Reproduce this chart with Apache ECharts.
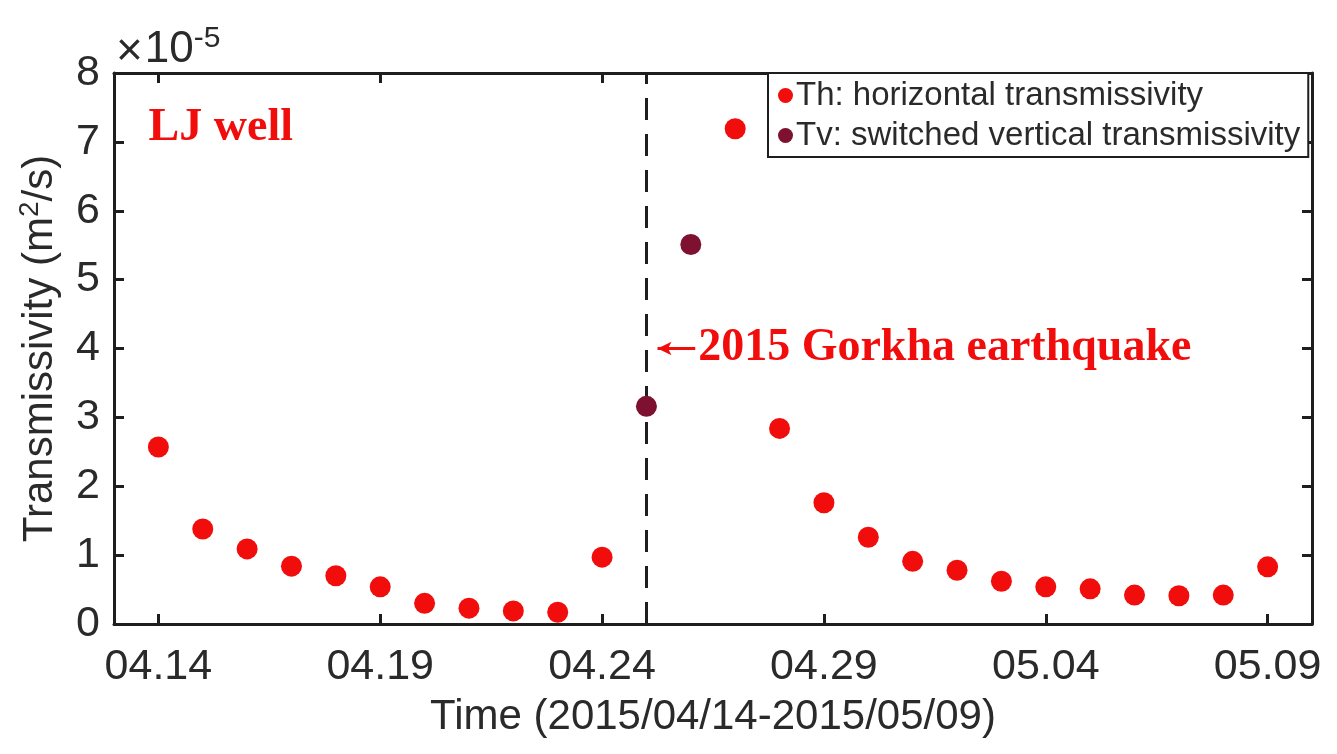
<!DOCTYPE html>
<html>
<head>
<meta charset="utf-8">
<script src="https://cdn.jsdelivr.net/npm/echarts@6/dist/echarts.min.js"></script>
<style>
  html, body { margin: 0; padding: 0; background: #fff; }
  #chart { width: 1337px; height: 754px; }
</style>
</head>
<body>
<div id="chart"></div>
<script>
// Days counted from 2015/04/14 (day 0)
const tickDays = [0, 5, 10, 15, 20, 25];
const tickLabels = ['04.14', '04.19', '04.24', '04.29', '05.04', '05.09'];

// Th: horizontal transmissivity (x 1e-5 m^2/s)
const thDays = [0, 1, 2, 3, 4, 5, 6, 7, 8, 9, 10, 13, 14, 15, 16, 17, 18, 19, 20, 21, 22, 23, 24, 25];
const thValues = [2.57, 1.38, 1.09, 0.84, 0.70, 0.54, 0.30, 0.23, 0.19, 0.17, 0.97,
                  7.19, 2.84, 1.76, 1.26, 0.91, 0.78, 0.62, 0.54, 0.51, 0.42, 0.41, 0.42, 0.83];

// Tv: switched vertical transmissivity (x 1e-5 m^2/s)
const tvDays = [11, 12];
const tvValues = [3.16, 5.51];

// Gorkha earthquake day (04.25)
const quakeDay = 11;

const thColor = '#f20d0d';
const tvColor = '#7e1030';
const axisColor = '#1e1e1e';
const textColor = '#2a2a2a';
const sans = '"Liberation Sans", Arial, Helvetica, sans-serif';
const serif = '"Liberation Serif", "Times New Roman", serif';

const chart = echarts.init(document.getElementById('chart'));

const labelFor = v => {
  const i = tickDays.indexOf(v);
  return i >= 0 ? tickLabels[i] : '';
};

const frameLine = { show: true, onZero: false, lineStyle: { color: axisColor, width: 3 } };

const option = {
  backgroundColor: '#fff',
  animation: false,
  grid: { left: 114, top: 73, right: 25, bottom: 130, containLabel: false },
  legend: {
    orient: 'vertical',
    left: 768,
    top: 73,
    padding: [6, 8, 5, 10],
    itemGap: 7,
    itemWidth: 15,
    itemHeight: 15,
    icon: 'circle',
    borderColor: axisColor,
    borderWidth: 2,
    backgroundColor: '#fff',
    textStyle: { fontFamily: sans, fontSize: 33, color: textColor, padding: [0, 0, 0, -2] },
    data: ['Th: horizontal transmissivity', 'Tv: switched vertical transmissivity']
  },
  xAxis: [{
    type: 'value',
    min: -1,
    max: 26,
    position: 'bottom',
    name: 'Time (2015/04/14-2015/05/09)',
    nameLocation: 'middle',
    nameGap: 72,
    nameTextStyle: { fontFamily: sans, fontSize: 42, color: textColor },
    axisLine: frameLine,
    axisTick: { show: true, inside: true, length: 10, customValues: tickDays, lineStyle: { color: axisColor, width: 3 } },
    axisLabel: { customValues: tickDays, formatter: labelFor, margin: 22, fontFamily: sans, fontSize: 43, color: textColor },
    splitLine: { show: false }
  }, {
    type: 'value',
    min: -1,
    max: 26,
    position: 'top',
    axisLine: frameLine,
    axisTick: { show: true, inside: true, length: 10, customValues: tickDays, lineStyle: { color: axisColor, width: 3 } },
    axisLabel: { show: false },
    splitLine: { show: false }
  }],
  yAxis: [{
    type: 'value',
    min: 0,
    max: 8,
    interval: 1,
    position: 'left',
    name: 'Transmissivity (m{sup|2}/s)',
    nameLocation: 'middle',
    nameGap: 50,
    nameTextStyle: {
      fontFamily: sans, fontSize: 42, color: textColor,
      rich: { sup: { fontFamily: sans, fontSize: 28, color: textColor, verticalAlign: 'top', padding: [0, 0, 20, 0] } }
    },
    axisLine: frameLine,
    axisTick: { show: true, inside: true, length: 10, lineStyle: { color: axisColor, width: 3 } },
    axisLabel: { margin: 14, fontFamily: sans, fontSize: 43, color: textColor },
    splitLine: { show: false }
  }, {
    type: 'value',
    min: 0,
    max: 8,
    interval: 1,
    position: 'right',
    axisLine: frameLine,
    axisTick: { show: true, inside: true, length: 10, lineStyle: { color: axisColor, width: 3 } },
    axisLabel: { show: false },
    splitLine: { show: false }
  }],
  series: [{
    name: 'Th: horizontal transmissivity',
    type: 'scatter',
    symbol: 'circle',
    symbolSize: 21,
    itemStyle: { color: thColor, opacity: 1 },
    data: thDays.map((d, i) => [d, thValues[i]]),
    z: 3,
    markLine: {
      silent: true,
      symbol: ['none', 'none'],
      label: { show: false },
      lineStyle: { color: axisColor, width: 3, type: [22, 14] },
      data: [{ xAxis: quakeDay }],
      z: 1
    }
  }, {
    name: 'Tv: switched vertical transmissivity',
    type: 'scatter',
    symbol: 'circle',
    symbolSize: 21,
    itemStyle: { color: tvColor, opacity: 1 },
    data: tvDays.map((d, i) => [d, tvValues[i]]),
    z: 4
  }, {
    // annotation layer: arrow and event label
    type: 'scatter',
    data: [],
    silent: true,
    markLine: {
      silent: true,
      symbol: ['arrow', 'none'],
      symbolSize: [10, 14],
      label: { show: false },
      lineStyle: { color: thColor, width: 3, type: 'solid', opacity: 1 },
      data: [[{ coord: [quakeDay + 0.25, 4.0] }, { coord: [quakeDay + 1.1, 4.0] }]]
    },
    markPoint: {
      silent: true,
      symbol: 'circle',
      symbolSize: 0,
      data: [{
        coord: [quakeDay + 1.12, 4.0],
        label: {
          show: true, position: 'right', distance: 2,
          formatter: '2015 Gorkha earthquake',
          fontFamily: serif, fontWeight: 'bold', fontSize: 46, color: thColor
        }
      }, {
        coord: [-0.22, 7.2],
        label: {
          show: true, position: 'right', distance: 0,
          formatter: 'LJ well',
          fontFamily: serif, fontWeight: 'bold', fontSize: 46, color: thColor
        }
      }]
    }
  }],
  graphic: [{
    type: 'text',
    left: 116,
    top: 24,
    style: {
      text: '{x|\u00d7}{b|10}{s|-5}',
      rich: {
        x: { fontFamily: sans, fontSize: 46, fill: textColor, padding: [4, 2, 0, 0] },
        b: { fontFamily: sans, fontSize: 44, fill: textColor },
        s: { fontFamily: sans, fontSize: 30, fill: textColor, verticalAlign: 'top', padding: [0, 0, 22, 0] }
      }
    }
  }]
};

chart.setOption(option);
</script>
</body>
</html>
